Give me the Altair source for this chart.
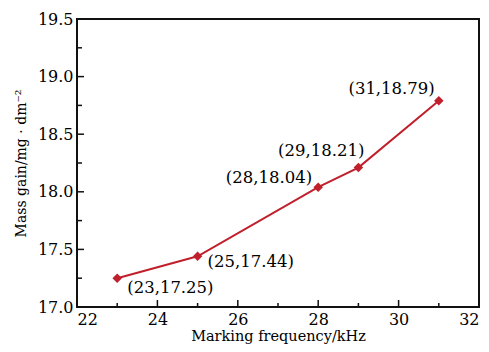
import altair as alt
import pandas as pd

freq = [23, 25, 28, 29, 31]
gain = [17.25, 17.44, 18.04, 18.21, 18.79]
labels = ["(23,17.25)", "(25,17.44)", "(28,18.04)", "(29,18.21)", "(31,18.79)"]

x_major = [22, 24, 26, 28, 30, 32]
x_minor = [23, 25, 27, 29, 31]
y_major = [17.0, 17.5, 18.0, 18.5, 19.0, 19.5]
y_minor = [17.25, 17.75, 18.25, 18.75, 19.25]

df = pd.DataFrame({"f": freq, "g": gain, "lab": labels})
W, H = 402, 288
FONT = "DejaVu Serif"
RED = "#c0202c"
INK = "#000"

xs = alt.Scale(domain=[22, 32], nice=False)
ys = alt.Scale(domain=[17.0, 19.5], nice=False)

base = alt.Chart(df)
line = base.mark_line(color=RED, strokeWidth=2).encode(
    x=alt.X("f:Q", scale=xs, axis=alt.Axis(values=x_major, title="Marking frequency/kHz", format="d", titleFontSize=14.5)),
    y=alt.Y("g:Q", scale=ys, axis=alt.Axis(values=y_major, title="Mass gain/mg · dm⁻²", format=".1f", titleFontSize=14)),
)
pts = base.mark_point(shape="diamond", filled=True, color=RED, size=90, opacity=1).encode(
    x=alt.X("f:Q", scale=xs), y=alt.Y("g:Q", scale=ys)
)

offsets = {
    23: dict(align="left", dx=10, dy=10),
    25: dict(align="left", dx=10, dy=6),
    28: dict(align="right", dx=-6, dy=-9),
    29: dict(align="right", dx=6, dy=-17),
    31: dict(align="right", dx=-4, dy=-12),
}
texts = []
for k, o in offsets.items():
    texts.append(
        base.transform_filter(alt.datum.f == k)
        .mark_text(font=FONT, fontSize=16.5, color=INK, baseline="middle", **o)
        .encode(x=alt.X("f:Q", scale=xs), y=alt.Y("g:Q", scale=ys), text="lab:N")
    )

def xticks(vals, length):
    return alt.Chart(pd.DataFrame({"t": vals})).mark_rule(color="#111", strokeWidth=1.5).encode(
        x=alt.X("t:Q", scale=xs), y=alt.value(H), y2=alt.value(H - length)
    )

def yticks(vals, length):
    return alt.Chart(pd.DataFrame({"t": vals})).mark_rule(color="#111", strokeWidth=1.5).encode(
        y=alt.Y("t:Q", scale=ys), x=alt.value(0), x2=alt.value(length)
    )

chart = alt.layer(
    xticks(x_major, 7), xticks(x_minor, 4), yticks(y_major, 7), yticks(y_minor, 5),
    line, pts, *texts
).properties(
    width=W, height=H,
    autosize=alt.AutoSizeParams(type="none"),
    padding={"left": 77, "top": 19, "right": 10, "bottom": 45},
    background="white",
).configure_view(
    stroke="#111", strokeWidth=2
).configure_axis(
    grid=False, ticks=False, domain=False,
    labelFont=FONT, labelFontSize=16, labelColor=INK,
    titleFont=FONT, titleFontWeight="normal", titleColor=INK,
    labelPadding=4,
).configure_axisX(
    titlePadding=2,
).configure_axisY(
    titlePadding=9,
)

chart.save("out.html", embed_options={"renderer": "svg", "actions": False})
